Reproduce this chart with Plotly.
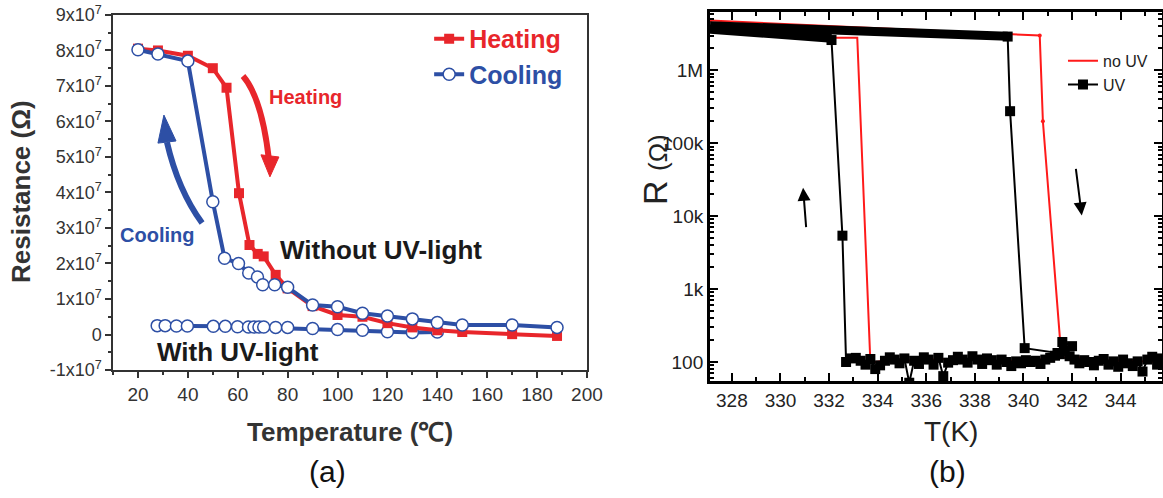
import plotly.graph_objects as go

FONT = "Arial, Liberation Sans, sans-serif"
RED = "#e8262b"
BLUE = "#2d4fa5"

# ---------------- panel (a): resistance vs temperature ----------------
heat_noUV_T = [20, 28, 40, 50, 55.5, 60.5, 64.7, 68, 70.4, 75.2, 80, 90, 100, 110, 120, 130, 140, 150, 170, 188]
heat_noUV_R = [8.05e7, 8.0e7, 7.85e7, 7.5e7, 6.95e7, 3.98e7, 2.52e7, 2.27e7, 2.2e7, 1.68e7,
               1.3e7, 0.8e7, 0.55e7, 0.5e7, 0.32e7, 0.2e7, 0.12e7, 0.07e7, 0.01e7, -0.04e7]

cool_noUV_T = [20, 28, 40, 50, 54.7, 60.3, 64.4, 67.9, 70, 74.8, 80, 90, 100, 110, 120, 130, 140, 150, 170, 188]
cool_noUV_R = [8.02e7, 7.9e7, 7.7e7, 3.74e7, 2.15e7, 2.0e7, 1.73e7, 1.62e7, 1.4e7, 1.4e7,
               1.33e7, 0.83e7, 0.78e7, 0.6e7, 0.52e7, 0.44e7, 0.34e7, 0.27e7, 0.27e7, 0.2e7]

# with UV-light: heating and cooling curves coincide
uv_T = [27.7, 30.9, 35.4, 39.8, 50.2, 55, 59.9, 64.3, 66.5, 68.5, 70.4, 75.2, 80, 90, 100, 110, 120, 130, 140]
uv_R = [0.25e7, 0.25e7, 0.24e7, 0.24e7, 0.23e7, 0.23e7, 0.22e7, 0.21e7, 0.21e7, 0.21e7, 0.21e7,
        0.2e7, 0.2e7, 0.17e7, 0.14e7, 0.12e7, 0.08e7, 0.06e7, 0.07e7]

a_xticks = [20, 40, 60, 80, 100, 120, 140, 160, 180, 200]
a_yticks = [-1e7, 0, 1e7, 2e7, 3e7, 4e7, 5e7, 6e7, 7e7, 8e7, 9e7]
a_yticktext = ["-1x10<sup>7</sup>", "0", "1x10<sup>7</sup>", "2x10<sup>7</sup>", "3x10<sup>7</sup>",
               "4x10<sup>7</sup>", "5x10<sup>7</sup>", "6x10<sup>7</sup>", "7x10<sup>7</sup>",
               "8x10<sup>7</sup>", "9x10<sup>7</sup>"]

# ---------------- panel (b): R(T) with and without UV ----------------
# no UV, heating: insulating branch then the drop
noUV_heat_T = [327.1, 339.35, 340.67, 340.8, 341.55]
noUV_heat_R = [4.8e6, 3.1e6, 3.0e6, 2.0e5, 130]
# no UV, cooling: metallic branch then the jump
noUV_cool_T = [345.7, 345.2, 344.4, 343.6, 342.8, 342.0, 341.2, 340.4, 339.6, 338.8, 338.0,
               337.2, 336.5, 335.8, 335.0, 334.3, 333.7, 333.16, 332.25, 327.1]
noUV_cool_R = [102, 100, 106, 104, 110, 118, 112, 108, 104, 98, 110,
               105, 112, 100, 108, 104, 98, 2.8e6, 2.8e6, 3.7e6]

# UV: thick high-resistance band (heating and cooling)
uv_band_heat_T = [327.1, 339.35]
uv_band_heat_R = [4.08e6, 2.93e6]
uv_band_cool_T = [327.1, 332.1]
uv_band_cool_R = [3.66e6, 2.75e6]

# UV heating transition
uv_heat_T = [339.35, 339.45, 340.05, 341.4, 341.6, 342.0]
uv_heat_R = [2.9e6, 2.75e5, 155, 133, 188, 165]

# UV cooling: jump then the low-resistance state
uv_jump_T = [332.1, 332.55]
uv_jump_R = [2.6e6, 5.4e3]
uv_low_T = [332.7, 332.9, 333.1, 333.3, 333.5, 333.7, 333.9, 334.1, 334.3, 334.5,
            334.7, 334.9, 335.1, 335.3, 335.5, 335.7, 335.9, 336.1, 336.3, 336.5,
            336.7, 336.9, 337.1, 337.3, 337.5, 337.7, 337.9, 338.1, 338.3, 338.5,
            338.7, 338.9, 339.1, 339.3, 339.5, 339.7, 339.9, 340.1, 340.3, 340.5,
            340.7, 340.9, 341.1, 341.3, 341.5, 341.7, 341.9, 342.1, 342.3, 342.5,
            342.7, 342.9, 343.1, 343.3, 343.5, 343.7, 343.9, 344.1, 344.3, 344.5,
            344.7, 344.9, 345.1, 345.3, 345.5, 345.7]
uv_low_R = [100, 112, 114, 104, 92, 110, 80, 90, 104, 116,
            108, 96, 112, 52, 104, 94, 116, 108, 92, 114,
            64, 98, 106, 118, 108, 98, 120, 108, 94, 112,
            106, 92, 108, 100, 88, 102, 96, 106, 100, 104,
            94, 108, 114, 122, 128, 142, 120, 108, 96, 106,
            100, 90, 104, 110, 92, 102, 86, 108, 96, 88,
            102, 74, 108, 118, 92, 112]

b_xticks = [328, 330, 332, 334, 336, 338, 340, 342, 344]
b_yticks = [100, 1e3, 1e4, 1e5, 1e6]
b_yticktext = ["100", "1k", "10k", "100k", "1M"]

fig = go.Figure()

# ---- panel (a) traces ----
circ = dict(symbol="circle", size=12, color="white", line=dict(color=BLUE, width=1.5))

fig.add_trace(go.Scatter(x=uv_T, y=uv_R, mode="lines+markers", line=dict(color=BLUE, width=4),
                         marker=circ, showlegend=False, xaxis="x", yaxis="y"))
fig.add_trace(go.Scatter(x=heat_noUV_T, y=heat_noUV_R, mode="lines+markers",
                         name="<span style='color:%s'>Heating</span>" % RED,
                         line=dict(color=RED, width=4), marker=dict(symbol="square", size=10, color=RED),
                         legend="legend", xaxis="x", yaxis="y"))
fig.add_trace(go.Scatter(x=cool_noUV_T, y=cool_noUV_R, mode="lines+markers",
                         name="<span style='color:%s'>Cooling</span>" % BLUE,
                         line=dict(color=BLUE, width=4), marker=circ, legend="legend",
                         xaxis="x", yaxis="y"))

# ---- panel (b) traces ----
fig.add_trace(go.Scatter(x=noUV_heat_T, y=noUV_heat_R, mode="lines+markers",
                         line=dict(color="#ff1a1a", width=2), marker=dict(size=4, color="#ff1a1a"),
                         showlegend=False, xaxis="x2", yaxis="y2"))
fig.add_trace(go.Scatter(x=noUV_cool_T, y=noUV_cool_R, mode="lines", name="no UV",
                         line=dict(color="#ff1a1a", width=2), legend="legend2",
                         xaxis="x2", yaxis="y2"))
fig.add_trace(go.Scatter(x=uv_band_heat_T, y=uv_band_heat_R, mode="lines",
                         line=dict(color="black", width=9), showlegend=False, xaxis="x2", yaxis="y2"))
fig.add_trace(go.Scatter(x=uv_band_cool_T, y=uv_band_cool_R, mode="lines",
                         line=dict(color="black", width=9), showlegend=False, xaxis="x2", yaxis="y2"))
fig.add_trace(go.Scatter(x=uv_jump_T + uv_low_T, y=uv_jump_R + uv_low_R, mode="lines+markers",
                         line=dict(color="black", width=2), marker=dict(symbol="square", size=10, color="black"),
                         showlegend=False, xaxis="x2", yaxis="y2"))
fig.add_trace(go.Scatter(x=uv_heat_T, y=uv_heat_R, mode="lines+markers", name="UV",
                         line=dict(color="black", width=2), marker=dict(symbol="square", size=10, color="black"),
                         legend="legend2", xaxis="x2", yaxis="y2"))

AX_A = "#333333"
fig.update_layout(
    template="none",
    width=1163, height=498, margin=dict(l=0, r=0, t=0, b=0, pad=0), autosize=False,
    paper_bgcolor="white", plot_bgcolor="white",
    font=dict(family=FONT, color="#222"),
    xaxis=dict(domain=[0.0972, 0.5047], range=[10, 200], tickvals=a_xticks, automargin=False,
               ticks="outside", ticklen=6, tickwidth=1.5, tickcolor=AX_A,
               minor=dict(dtick=10, tick0=0, ticks="outside", ticklen=3, tickwidth=1.5, tickcolor=AX_A),
               showline=True, linecolor=AX_A, linewidth=1.5, mirror=True, showgrid=False,
               zeroline=False, tickfont=dict(size=19, color="#333"), anchor="y"),
    yaxis=dict(domain=[0.257, 0.970], range=[-1e7, 9e7], tickvals=a_yticks, ticktext=a_yticktext,
               automargin=False,
               ticks="outside", ticklen=6, tickwidth=1.5, tickcolor=AX_A,
               minor=dict(dtick=5e6, tick0=0, ticks="outside", ticklen=3, tickwidth=1.5, tickcolor=AX_A),
               showline=True, linecolor=AX_A, linewidth=1.5, mirror=True, showgrid=False,
               zeroline=False, tickfont=dict(size=18, color="#333"), anchor="x"),
    xaxis2=dict(domain=[0.6105, 0.9991], range=[327.1, 345.7], tickvals=b_xticks, automargin=False,
                ticks="inside", ticklen=8, tickwidth=2, tickcolor="black",
                minor=dict(dtick=1, tick0=327, ticks="inside", ticklen=4, tickwidth=2, tickcolor="black"),
                showline=True, linecolor="black", linewidth=3, mirror="allticks", showgrid=False,
                zeroline=False, tickfont=dict(size=19, color="#222"), anchor="y2"),
    yaxis2=dict(domain=[0.235, 0.976], type="log", range=[1.74, 6.80], tickvals=b_yticks,
                ticktext=b_yticktext, automargin=False,
                ticks="inside", ticklen=8, tickwidth=2, tickcolor="black",
                minor=dict(dtick="D1", ticks="inside", ticklen=4, tickwidth=1.5, tickcolor="black"),
                showline=True, linecolor="black", linewidth=3, mirror="allticks", showgrid=False,
                zeroline=False, tickfont=dict(size=19, color="#222"), anchor="x2"),
    legend=dict(x=0.369, y=0.968, xanchor="left", yanchor="top", bgcolor="rgba(0,0,0,0)",
                font=dict(family=FONT, size=25, weight="bold"), tracegroupgap=0),
    legend2=dict(x=0.914, y=0.912, xanchor="left", yanchor="top", bgcolor="rgba(0,0,0,0)",
                 font=dict(family=FONT, size=16, color="#222"), tracegroupgap=0),
)


def label(text, x, y, size, color, xref="paper", yref="paper", angle=0):
    return dict(text=text, x=x, y=y, xref=xref, yref=yref, textangle=angle, showarrow=False,
                xanchor="center", yanchor="middle", font=dict(size=size, color=color))


ann = [
    # axis titles and panel labels
    label("<b>Resistance (Ω)</b>", 21 / 1163, 1 - 192 / 498, 26, "#333", angle=-90),
    label("<b>Temperature (℃)</b>", 350 / 1163, 1 - 432 / 498, 26, "#333"),
    label("(a)", 327 / 1163, 1 - 471 / 498, 30, "#111"),
    label("R <span style='font-size:26px'>(Ω)</span>", 655 / 1163, 1 - 170 / 498, 34, "#222", angle=-90),
    label("T(K)", 951 / 1163, 1 - 431 / 498, 28, "#222"),
    label("(b)", 947 / 1163, 1 - 471 / 498, 30, "#111"),
    # panel (a) in-plot labels
    label("<b>Heating</b>", 87, 6.7e7, 20, RED, "x", "y"),
    label("<b>Cooling</b>", 27.6, 2.8e7, 20, BLUE, "x", "y"),
    label("<b>Without UV-light</b>", 117.5, 2.38e7, 26, "#1a1a1a", "x", "y"),
    label("<b>With UV-light</b>", 59.9, -0.49e7, 26, "#1a1a1a", "x", "y"),
    # panel (b) direction arrows (y in log10 units)
    dict(x=330.93, y=4.39, ax=331.06, ay=3.83, xref="x2", yref="y2", axref="x2", ayref="y2",
         showarrow=True, arrowhead=2, arrowsize=1.3, arrowwidth=2, arrowcolor="black", text=""),
    dict(x=342.40, y=4.01, ax=342.15, ay=4.67, xref="x2", yref="y2", axref="x2", ayref="y2",
         showarrow=True, arrowhead=2, arrowsize=1.3, arrowwidth=2, arrowcolor="black", text=""),
]
fig.update_layout(annotations=ann)

# curved direction arrows in panel (a)
shapes = [
    dict(type="path", xref="x", yref="y", path="M 62.1,7.28e7 Q 69.7,6.66e7 72.5,4.92e7",
         line=dict(color=RED, width=6)),
    dict(type="path", xref="x", yref="y", path="M 69.3,5.06e7 L 76.5,5.0e7 L 72.9,4.44e7 Z",
         fillcolor=RED, line=dict(color=RED, width=1)),
    dict(type="path", xref="x", yref="y", path="M 45.7,3.14e7 Q 36.05,4.07e7 31.6,5.42e7",
         line=dict(color=BLUE, width=6)),
    dict(type="path", xref="x", yref="y", path="M 28.0,5.39e7 L 35.25,5.45e7 L 30.4,6.18e7 Z",
         fillcolor=BLUE, line=dict(color=BLUE, width=1)),
]
fig.update_layout(shapes=shapes)

fig.write_html("out.html")
